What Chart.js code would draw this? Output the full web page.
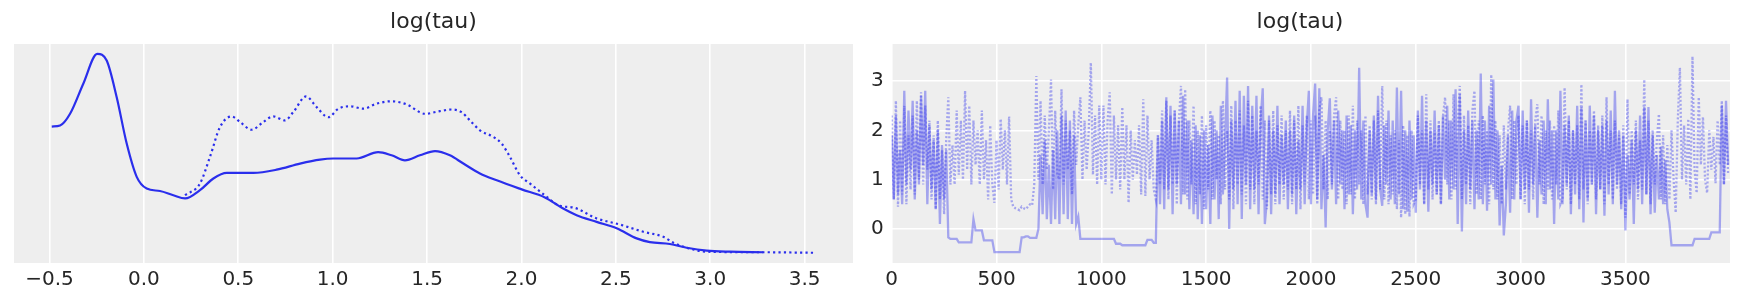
<!DOCTYPE html>
<html>
<head>
<meta charset="utf-8">
<script src="https://cdn.jsdelivr.net/npm/chart.js@4.4.1/dist/chart.umd.min.js"></script>
<style>
  html, body { margin: 0; padding: 0; background: #ffffff; }
  #wrap { position: relative; width: 1744px; height: 304px; }
  #kde { position: absolute; left: 0; top: 0; }
  #trace { position: absolute; left: 870px; top: 0; }
</style>
</head>
<body>
<div id="wrap">
  <canvas id="kde" width="870" height="304"></canvas>
  <canvas id="trace" width="874" height="304"></canvas>
</div>
<script>
// KDE of log(tau), chain 0 (solid) and chain 1 (dotted)
const kdeGridSolid = [-0.488, -0.444, -0.391, -0.321, -0.247, -0.197, -0.144, -0.091, -0.038, 0.015,
  0.085, 0.156, 0.218, 0.297, 0.368, 0.439, 0.58, 0.703, 0.827, 0.933, 1.003, 1.127, 1.241, 1.312,
  1.383, 1.462, 1.542, 1.621, 1.692, 1.78, 1.869, 2.001, 2.124, 2.221, 2.292, 2.398, 2.504, 2.61,
  2.68, 2.786, 2.875, 2.981, 3.104, 3.281];
const kdeDensSolid = [0.475, 0.479, 0.523, 0.636, 0.748, 0.723, 0.585, 0.411, 0.286, 0.242,
  0.233, 0.217, 0.205, 0.236, 0.28, 0.301, 0.301, 0.313, 0.336, 0.351, 0.355, 0.355, 0.379, 0.367,
  0.348, 0.367, 0.383, 0.367, 0.336, 0.299, 0.273, 0.239, 0.209, 0.167, 0.142, 0.117, 0.093, 0.055,
  0.041, 0.034, 0.02, 0.009, 0.005, 0.003];
const kdeGridDotted = [0.218, 0.297, 0.35, 0.403, 0.465, 0.509, 0.571, 0.632, 0.685, 0.747, 0.791,
  0.859, 0.915, 0.977, 1.03, 1.092, 1.162, 1.233, 1.312, 1.392, 1.489, 1.568, 1.63, 1.683, 1.727,
  1.78, 1.851, 1.895, 1.939, 1.992, 2.045, 2.124, 2.204, 2.274, 2.398, 2.522, 2.645, 2.751, 2.804,
  2.875, 2.981, 3.281, 3.546];
const kdeDensDotted = [0.217, 0.261, 0.361, 0.473, 0.513, 0.492, 0.463, 0.492, 0.513, 0.498, 0.529,
  0.588, 0.548, 0.51, 0.542, 0.551, 0.542, 0.561, 0.57, 0.558, 0.523, 0.533, 0.539, 0.529, 0.498,
  0.461, 0.436, 0.411, 0.361, 0.292, 0.261, 0.217, 0.177, 0.171, 0.13, 0.107, 0.08, 0.061, 0.039,
  0.02, 0.005, 0.003, 0.001];
const kdeTicks = [-0.5, 0.0, 0.5, 1.0, 1.5, 2.0, 2.5, 3.0, 3.5];

// trace of log(tau), one value every 10 draws
const thin = 10;
const chainSolid = [
  1.9, 0.6, 2.3, 0.7, 1.6, 0.5, 2.8, 0.9, 2.4, 1.2,
  2.6, 0.6, 2.0, 0.9, 2.7, 1.3, 2.8, 0.5, 2.1, 0.8,
  1.8, 0.4, 2.0, 0.1, 1.7, 0.6, 1.6, -0.17, -0.2, -0.2,
  -0.2, -0.2, -0.27, -0.27, -0.27, -0.27, -0.27, -0.27, -0.27, 0.2,
  -0.03, -0.03, -0.03, -0.03, -0.23, -0.23, -0.23, -0.23, -0.23, -0.47,
  -0.47, -0.47, -0.47, -0.47, -0.47, -0.47, -0.47, -0.47, -0.47, -0.47,
  -0.47, -0.47, -0.17, -0.17, -0.15, -0.15, -0.18, -0.18, -0.18, -0.18,
  0.0, 1.5, 0.3, 1.8, 0.2, 1.3, 0.1, 1.6, 0.2, 2.0,
  0.1, 2.3, 0.3, 2.4, 0.2, 2.2, 0.1, 1.9, 0.1, 0.25,
  -0.2, -0.2, -0.2, -0.2, -0.2, -0.2, -0.2, -0.2, -0.2, -0.2,
  -0.2, -0.2, -0.2, -0.2, -0.2, -0.2, -0.2, -0.3, -0.3, -0.3,
  -0.33, -0.33, -0.33, -0.33, -0.33, -0.33, -0.33, -0.33, -0.33, -0.33,
  -0.33, -0.33, -0.22, -0.22, -0.22, -0.28, -0.28, 1.9, 0.5, 2.2,
  0.4, 2.6, 0.8, 2.5, 0.3, 2.4, 0.9, 2.2, 0.5, 2.7,
  0.7, 2.2, 0.4, 1.8, 0.3, 2.1, 0.2, 1.9, 0.1, 2.0,
  0.4, 1.7, 0.1, 2.3, 0.6, 2.0, 0.2, 2.5, 0.7, 1.8,
  3.07, 0.0, 2.2, 0.8, 2.6, 0.5, 2.8, 0.2, 2.7, 0.9,
  2.9, 0.4, 2.5, 0.8, 2.7, 0.3, 2.2, 2.85, 0.1, 0.6,
  2.3, 0.3, 2.0, 0.7, 2.5, 0.5, 1.9, 0.9, 2.2, 0.4,
  2.0, 0.7, 2.3, 0.3, 1.8, 0.8, 2.5, 0.5, 2.1, 2.8,
  0.5, 2.3, 2.95, 0.6, 2.85, 0.4, 1.5, 0.03, 2.0, 2.65,
  0.8, 2.2, 0.5, 2.4, 0.9, 2.0, 0.4, 2.3, 0.7, 2.1,
  0.3, 2.0, 0.8, 3.27, 0.6, 2.2, 0.5, 0.23, 2.0, 0.7,
  2.3, 0.6, 2.7, 0.8, 0.47, 2.1, 0.9, 2.4, 0.6, 2.2,
  0.5, 2.87, 0.7, 2.8, 0.4, 2.0, 0.35, 2.2, 0.6, 1.9,
  0.33, 2.4, 0.8, 2.7, 0.5, 2.2, 0.35, 2.0, 0.9, 2.4,
  0.7, 2.1, 0.5, 2.3, 1.0, 2.5, 0.6, 2.2, 0.8, 2.83,
  0.1, 2.73, -0.05, 2.0, 0.5, 2.4, 0.8, 2.2, 0.4, 2.0,
  0.6, 3.15, 0.5, 2.2, 0.37, 2.5, 0.9, 3.03, 0.6, 2.0,
  0.07, 1.27, -0.13, 0.5, 1.9, 0.33, 2.4, 0.6, 2.2, 2.5,
  0.6, 2.4, 0.8, 2.2, 0.33, 2.63, 0.9, 2.1, 0.23, 1.8,
  0.7, 2.2, 0.5, 2.63, 0.8, 2.0, 0.1, 2.0, 0.6, 2.8,
  0.5, 2.1, 0.9, 2.3, 0.3, 2.0, 0.7, 2.5, 0.4, 2.47,
  0.13, 2.2, 0.6, 2.5, 0.9, 2.3, 0.3, 2.0, 0.8, 2.1,
  0.27, 2.2, 0.7, 2.4, 0.5, 2.8, 0.9, 2.0, 0.4, 1.9,
  -0.03, 1.5, 0.6, 1.8, 0.1, 2.0, 0.8, 2.3, 0.5, 2.47,
  0.7, 2.47, 0.3, 1.9, 0.33, 1.5, 0.6, 1.67, 0.5, 1.4,
  0.4, 0.13, -0.33, -0.33, -0.33, -0.33, -0.33, -0.33, -0.33, -0.33,
  -0.33, -0.33, -0.33, -0.2, -0.2, -0.2, -0.2, -0.2, -0.2, -0.2,
  -0.2, -0.07, -0.07, -0.07, -0.07, -0.07, 2.5, 0.9, 2.6, 1.3
];
const chainDotted = [
  2.3, 0.6, 2.6, 0.45, 2.2, 0.7, 2.5, 0.5, 1.9, 0.8,
  2.3, 0.7, 2.6, 1.0, 2.77, 0.9, 2.5, 1.2, 2.2, 0.6,
  1.9, 0.4, 2.2, 0.6, 1.6, 0.3, 1.8, 2.67, 0.9, 1.7,
  0.9, 2.4, 1.1, 2.2, 1.0, 2.8, 1.2, 2.5, 0.9, 2.2,
  1.3, 2.0, 0.9, 2.4, 1.0, 1.8, 0.6, 2.1, 0.9, 0.53,
  1.8, 0.8, 2.23, 1.2, 2.0, 0.9, 2.28, 0.6, 0.45, 0.42,
  0.4, 0.38, 0.45, 0.42, 0.4, 0.45, 0.5, 0.48, 0.9, 3.1,
  1.0, 2.6, 0.9, 2.3, 1.2, 2.0, 3.03, 0.8, 2.4, 1.1,
  1.0, 2.83, 0.9, 2.2, 1.2, 2.0, 0.7, 2.4, 1.3, 2.1,
  2.67, 1.0, 2.2, 1.2, 2.0, 3.37, 1.1, 2.3, 0.9, 2.5,
  1.0, 2.5, 0.9, 2.2, 2.77, 0.7, 2.3, 1.0, 2.1, 0.8,
  2.47, 1.0, 2.1, 0.53, 2.0, 1.0, 1.8, 1.1, 2.1, 0.7,
  2.63, 0.67, 2.3, 1.0, 1.8, 0.8, 0.6, 1.9, 0.9, 2.4,
  0.8, 2.67, 0.6, 2.3, 0.9, 2.4, 0.5, 2.2, 2.9, 0.7,
  2.83, 0.6, 2.2, 0.9, 2.5, 0.5, 2.0, 0.7, 2.3, 0.4,
  2.1, 0.8, 2.4, 0.6, 2.2, 1.0, 1.9, 0.5, 2.6, 0.8,
  2.0, 0.6, 2.5, 0.4, 2.2, 0.9, 2.4, 0.7, 2.1, 0.5,
  2.6, 0.8, 2.3, 0.5, 2.0, 0.9, 2.5, 0.6, 2.2, 0.4,
  2.2, 0.7, 2.4, 0.5, 2.1, 0.9, 2.3, 0.6, 2.0, 0.8,
  2.4, 0.5, 2.2, 0.8, 2.5, 0.4, 2.1, 0.9, 2.3, 0.6,
  2.2, 0.7, 2.3, 0.5, 2.4, 2.67, 0.8, 2.2, 0.6, 2.0,
  0.9, 2.3, 2.67, 0.6, 2.2, 0.8, 2.0, 0.5, 2.3, 0.7,
  2.5, 0.6, 2.2, 0.9, 2.0, 0.5, 2.3, 0.7, 2.1, 0.6,
  2.2, 0.5, 2.4, 0.8, 2.9, 0.6, 2.2, 0.5, 1.9, 0.7,
  2.0, 0.4, 1.8, 0.23, 2.1, 0.3, 1.9, 0.25, 2.0, 0.5,
  0.6, 2.3, 0.9, 2.0, 0.5, 2.73, 0.8, 2.2, 0.6, 2.0,
  0.7, 2.2, 0.5, 2.3, 2.67, 0.9, 2.2, 0.6, 2.73, 0.8,
  2.1, 2.9, 0.6, 2.3, 0.9, 2.1, 0.5, 2.4, 2.8, 0.7,
  2.2, 0.6, 2.3, 0.9, 2.0, 0.5, 3.13, 0.8, 2.2, 0.6,
  1.9, 0.5, 2.1, 0.8, 2.0, 2.5, 0.6, 2.2, 0.9, 2.3,
  0.6, 2.1, 0.5, 2.2, 0.8, 2.0, 0.6, 2.2, 2.53, 0.9,
  2.3, 0.5, 2.0, 0.8, 2.2, 0.6, 2.1, 0.9, 2.4, 0.5,
  0.6, 2.87, 0.8, 2.2, 0.5, 2.0, 0.9, 2.1, 0.6, 2.93,
  0.8, 2.2, 0.5, 2.0, 0.9, 2.4, 0.6, 2.1, 0.8, 2.3,
  0.5, 2.67, 0.9, 2.0, 0.6, 2.2, 0.8, 1.9, 0.5, 2.1,
  0.23, 2.63, 0.7, 2.0, 0.9, 2.2, 0.6, 1.8, 0.8, 3.03,
  0.7, 2.2, 0.5, 2.0, 0.9, 1.8, 2.33, 0.6, 1.9, 0.5,
  1.7, 0.6, 2.0, 1.0, 0.33, 2.2, 3.27, 1.0, 2.1, 0.9,
  2.23, 0.6, 3.5, 1.2, 0.73, 2.67, 1.3, 2.27, 1.0, 0.73,
  2.0, 1.2, 1.87, 0.93, 2.2, 1.3, 2.6, 0.9, 2.3, 1.1
];
const drawTicks = [0, 500, 1000, 1500, 2000, 2500, 3000, 3500];
const valueTicks = [0, 1, 2, 3];

const blue = '#2a2eec';
const traceBlue = 'rgba(42, 46, 236, 0.38)';
const textColor = '#262626';
const fontFamily = "'DejaVu Sans', sans-serif";

Chart.defaults.font.family = fontFamily;
Chart.defaults.color = textColor;

const panelBg = {
  id: 'panelBg',
  beforeDraw(chart) {
    const a = chart.chartArea;
    const ctx = chart.ctx;
    ctx.save();
    ctx.fillStyle = '#eeeeee';
    ctx.fillRect(a.left, a.top, a.right - a.left, a.bottom - a.top);
    ctx.restore();
  }
};

function fixTicks(list) {
  return function (scale) {
    scale.ticks = list.map(v => ({ value: v }));
  };
}

function titleOpts() {
  return {
    display: true,
    text: 'log(tau)',
    color: textColor,
    font: { size: 22, weight: 'normal', family: fontFamily },
    padding: { top: 9.2, bottom: 8.4 }
  };
}

function xy(xs, ys) {
  return xs.map((x, i) => ({ x: x, y: ys[i] }));
}

// left panel: KDE
new Chart(document.getElementById('kde'), {
  type: 'line',
  data: {
    datasets: [
      {
        data: xy(kdeGridSolid, kdeDensSolid),
        borderColor: blue,
        borderWidth: 2.2,
        pointRadius: 0,
        cubicInterpolationMode: 'monotone'
      },
      {
        data: xy(kdeGridDotted, kdeDensDotted),
        borderColor: blue,
        borderWidth: 2.2,
        borderDash: [2.2, 3.2],
        pointRadius: 0,
        cubicInterpolationMode: 'monotone'
      }
    ]
  },
  options: {
    responsive: false,
    animation: false,
    layout: { padding: { left: 14, right: 17, top: 0, bottom: 0 } },
    plugins: { legend: { display: false }, tooltip: { enabled: false }, title: titleOpts() },
    scales: {
      x: {
        type: 'linear',
        min: -0.688,
        max: 3.756,
        afterBuildTicks: fixTicks(kdeTicks),
        afterFit: (s) => { s.height = 41; },
        border: { display: false },
        grid: { color: '#ffffff', lineWidth: 1.6, drawTicks: false },
        ticks: {
          padding: 5,
          font: { size: 20 },
          color: textColor,
          maxRotation: 0,
          callback: (v) => Number(v).toFixed(1).replace('-', '\u2212')
        }
      },
      y: {
        min: -0.0374,
        max: 0.785,
        display: false
      }
    }
  },
  plugins: [panelBg]
});

// right panel: trace
const draws = chainSolid.map((_, i) => i * thin);

new Chart(document.getElementById('trace'), {
  type: 'line',
  data: {
    datasets: [
      {
        data: xy(draws, chainSolid),
        borderColor: traceBlue,
        borderWidth: 2.3,
        pointRadius: 0,
        tension: 0
      },
      {
        data: xy(draws, chainDotted),
        borderColor: traceBlue,
        borderWidth: 2.3,
        borderDash: [2, 2],
        pointRadius: 0,
        tension: 0
      }
    ]
  },
  options: {
    responsive: false,
    animation: false,
    layout: { padding: { left: 0, right: 14, top: 0, bottom: 0 } },
    plugins: { legend: { display: false }, tooltip: { enabled: false }, title: titleOpts() },
    scales: {
      x: {
        type: 'linear',
        min: 0,
        max: 3999,
        afterBuildTicks: fixTicks(drawTicks),
        afterFit: (s) => { s.height = 41; },
        border: { display: false },
        grid: { color: '#ffffff', lineWidth: 1.6, drawTicks: false },
        ticks: {
          padding: 5,
          font: { size: 20 },
          color: textColor,
          maxRotation: 0,
          callback: (v) => String(v)
        }
      },
      y: {
        type: 'linear',
        min: -0.69,
        max: 3.75,
        afterBuildTicks: fixTicks(valueTicks),
        afterFit: (s) => { s.width = 21.7; },
        border: { display: false },
        grid: { color: '#ffffff', lineWidth: 1.6, drawTicks: false },
        ticks: { padding: 8, font: { size: 20 }, color: textColor, callback: (v) => String(v) }
      }
    }
  },
  plugins: [panelBg]
});
</script>
</body>
</html>
